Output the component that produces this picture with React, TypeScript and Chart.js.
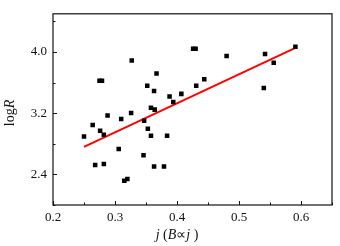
import React, { useEffect, useRef } from "react";
import { Chart, registerables } from "chart.js";

Chart.register(...registerables);

// Data (x = j, y = log R)
const jValues = [
  0.327, 0.275, 0.279, 0.367, 0.352, 0.363, 0.388, 0.407, 0.394, 0.358,
  0.364, 0.288, 0.326, 0.31, 0.347, 0.264, 0.276, 0.282, 0.25, 0.353,
  0.358, 0.384, 0.306, 0.346, 0.268, 0.282, 0.363, 0.379, 0.315, 0.32,
  0.426, 0.43, 0.48, 0.542, 0.591, 0.556, 0.444, 0.431, 0.54,
];
const logRValues = [
  3.89, 3.624, 3.624, 3.718, 3.56, 3.491, 3.419, 3.453, 3.346, 3.273,
  3.247, 3.171, 3.203, 3.124, 3.103, 3.047, 2.971, 2.919, 2.897, 2.996,
  2.906, 2.906, 2.731, 2.65, 2.522, 2.535, 2.504, 2.504, 2.317, 2.34,
  4.042, 4.042, 3.949, 3.974, 4.068, 3.859, 3.645, 3.56, 3.529,
];
// Linear fit line end points
const fitX = [0.25, 0.591];
const fitY = [2.76, 4.055];

// Axis ticks
const xMajorTicks = [0.2, 0.3, 0.4, 0.5, 0.6];
const xMinorTicks = [0.25, 0.35, 0.45, 0.55, 0.65];
const yMajorTicks = [2.4, 3.2, 4.0];
const yMinorTicks = [2.0, 2.8, 3.6, 4.4];

const FONT = "'Liberation Serif', 'Times New Roman', serif";

function drawSegments(ctx: CanvasRenderingContext2D, segs: [string, boolean][], size: number, cx: number, cy: number) {
  const fontOf = (it: boolean) => `${it ? "italic " : ""}${size}px ${FONT}`;
  let total = 0;
  const widths = segs.map(([t, it]) => {
    ctx.font = fontOf(it);
    const w = ctx.measureText(t).width;
    total += w;
    return w;
  });
  let x = cx - total / 2;
  ctx.textAlign = "left";
  ctx.textBaseline = "middle";
  segs.forEach(([t, it], i) => {
    ctx.font = fontOf(it);
    ctx.fillText(t, x, cy);
    x += widths[i];
  });
}

const framePlugin = {
  id: "framePlugin",
  afterDraw(chart: any) {
    const { ctx, chartArea } = chart;
    const xs = chart.scales.x;
    const ys = chart.scales.y;
    ctx.save();
    ctx.strokeStyle = "#111";
    ctx.lineWidth = 1.2;
    ctx.strokeRect(chartArea.left, chartArea.top, chartArea.right - chartArea.left, chartArea.bottom - chartArea.top);
    ctx.lineWidth = 1;
    ctx.beginPath();
    xMajorTicks.forEach((v) => {
      const px = Math.round(xs.getPixelForValue(v)) + 0.5;
      ctx.moveTo(px, chartArea.bottom);
      ctx.lineTo(px, chartArea.bottom - 4);
    });
    xMinorTicks.forEach((v) => {
      const px = Math.round(xs.getPixelForValue(v)) + 0.5;
      ctx.moveTo(px, chartArea.bottom);
      ctx.lineTo(px, chartArea.bottom - 2.5);
    });
    yMajorTicks.forEach((v) => {
      const py = Math.round(ys.getPixelForValue(v)) + 0.5;
      ctx.moveTo(chartArea.left, py);
      ctx.lineTo(chartArea.left + 4, py);
    });
    yMinorTicks.forEach((v) => {
      const py = Math.round(ys.getPixelForValue(v)) + 0.5;
      ctx.moveTo(chartArea.left, py);
      ctx.lineTo(chartArea.left + 2.5, py);
    });
    ctx.stroke();

    ctx.fillStyle = "#111";
    // x title
    drawSegments(
      ctx,
      [
        ["j", true],
        [" (", false],
        ["B", true],
        ["\u221D", false],
        ["j", true],
        [" )", false],
      ],
      14,
      xs.getPixelForValue(0.4),
      235
    );
    // y title
    ctx.save();
    ctx.translate(10, 113);
    ctx.rotate(-Math.PI / 2);
    drawSegments(
      ctx,
      [
        ["log", false],
        ["R", true],
      ],
      14,
      0,
      0
    );
    ctx.restore();
    ctx.restore();
  },
};

export default function App() {
  const canvasRef = useRef<HTMLCanvasElement | null>(null);

  useEffect(() => {
    document.body.style.margin = "0";
    const canvas = canvasRef.current;
    if (!canvas) return;
    const points = jValues.map((x, i) => ({ x, y: logRValues[i] }));
    const fit = fitX.map((x, i) => ({ x, y: fitY[i] }));
    const chart = new Chart(canvas, {
      type: "scatter",
      data: {
        datasets: [
          {
            type: "line",
            data: fit,
            borderColor: "#ff0000",
            borderWidth: 2,
            pointRadius: 0,
            showLine: true,
            fill: false,
            order: 2,
          } as any,
          {
            data: points,
            pointStyle: "rect",
            pointRadius: 3.2,
            pointBorderWidth: 0,
            backgroundColor: "#000",
            borderColor: "#000",
            order: 1,
          },
        ],
      },
      plugins: [framePlugin],
      options: {
        animation: false,
        responsive: true,
        maintainAspectRatio: false,
        layout: { autoPadding: false, padding: { top: 9.5, right: 8, left: 0, bottom: 0 } },
        plugins: { legend: { display: false }, tooltip: { enabled: false } },
        scales: {
          x: {
            type: "linear",
            min: 0.2,
            max: 0.65,
            grid: { display: false, drawTicks: false },
            border: { display: false },
            afterBuildTicks: (scale: any) => {
              scale.ticks = xMajorTicks.map((v) => ({ value: v }));
            },
            afterFit: (scale: any) => {
              scale.height = 41;
            },
            ticks: {
              padding: 5,
              color: "#111",
              font: { family: FONT, size: 13 },
              callback: (v: any) => Number(v).toFixed(1),
            },
          },
          y: {
            type: "linear",
            min: 2.0,
            max: 4.5,
            grid: { display: false, drawTicks: false },
            border: { display: false },
            afterBuildTicks: (scale: any) => {
              scale.ticks = yMajorTicks.map((v) => ({ value: v }));
            },
            afterFit: (scale: any) => {
              scale.width = 53;
            },
            ticks: {
              padding: 6,
              color: "#111",
              font: { family: FONT, size: 13 },
              callback: (v: any) => Number(v).toFixed(1),
            },
          },
        },
      },
    });
    return () => chart.destroy();
  }, []);

  return (
    <div style={{ width: 340, height: 246, position: "relative" }}>
      <canvas ref={canvasRef} />
    </div>
  );
}
